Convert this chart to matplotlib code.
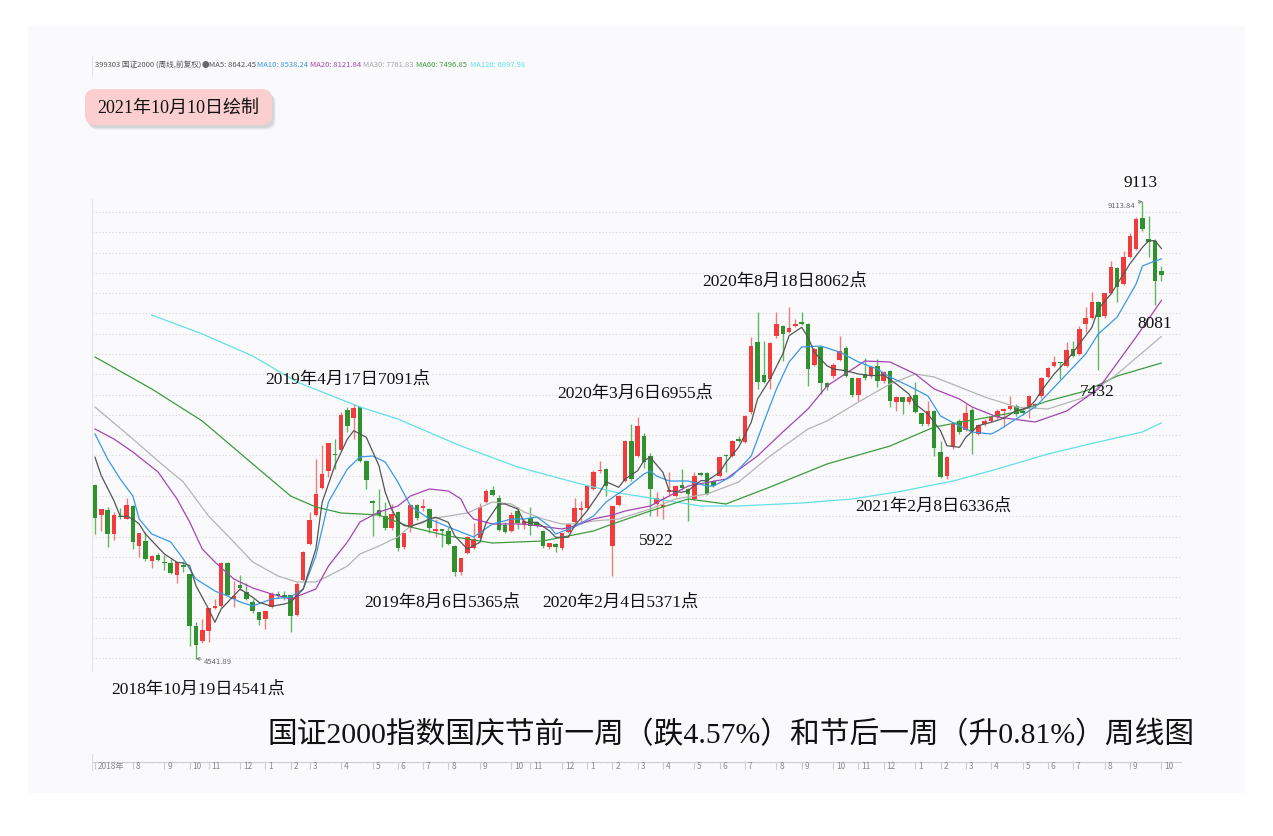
import numpy as np
import matplotlib
matplotlib.use("Agg")
import matplotlib.pyplot as plt
from matplotlib.patches import Rectangle, FancyBboxPatch
from matplotlib.lines import Line2D

# weekly candles, 399303 国证2000, week of 2018-06-22 .. 2021-10-08 (170 weeks)
opens = [6280, 5977, 6030, 5787, 5970, 5937, 6064, 5670, 5720, 5520,
         5577, 5510, 5497, 5377, 5477, 5387, 4870, 4720, 4814, 5047,
         5064, 5494, 5137, 5277, 5210, 5110, 5004, 4937, 5060, 5184,
         5177, 5177, 4977, 5330, 5687, 5980, 6247, 6420, 6587, 6630,
         7027, 6947, 7054, 6520, 6120, 6030, 5970, 5844, 6004, 5654,
         5844, 6077, 6050, 6037, 5820, 5837, 5820, 5670, 5410, 5597,
         5644, 5744, 6110, 6230, 6147, 5877, 5820, 6014, 5877, 5944,
         5904, 5820, 5654, 5687, 5644, 5804, 5904, 6030, 6044, 6237,
         6417, 6437, 5664, 6077, 6320, 6720, 6570, 6770, 6570, 6087,
         6054, 6210, 6170, 6277, 6237, 6137, 6397, 6397, 6320, 6370,
         6577, 6570, 6737, 6704, 7004, 7710, 7377, 7337, 7764, 7870,
         7810, 7870, 7904, 7887, 7477, 7654, 7297, 7370, 7530, 7647,
         7344, 7177, 7387, 7364, 7464, 7320, 7420, 7104, 7154, 7104,
         7177, 6997, 6884, 7020, 6610, 6364, 6654, 6920, 6830, 7030,
         6787, 6887, 6920, 6954, 7020, 7037, 7070, 7014, 7054, 7067,
         7164, 7360, 7470, 7504, 7470, 7637, 7587, 7887, 7947, 8104,
         7970, 8194, 8447, 8287, 8554, 8637, 8947, 8737, 8720, 8420]
highs = [6290, 6037, 6054, 6004, 6047, 6144, 6077, 5800, 5804, 5580,
         5597, 5577, 5537, 5510, 5520, 5390, 4910, 4937, 5050, 5137,
         5504, 5510, 5320, 5377, 5297, 5137, 5010, 5030, 5210, 5220,
         5220, 5180, 5310, 5620, 6010, 6537, 6677, 6700, 6737, 7004,
         7054, 7091, 7064, 6530, 6130, 6237, 6104, 6087, 6020, 5800,
         6090, 6090, 6137, 6050, 5937, 5840, 5854, 5680, 5550, 5770,
         5893, 6097, 6237, 6264, 6177, 5904, 6004, 6054, 5940, 6054,
         5920, 5830, 5700, 5700, 5800, 5900, 6144, 6120, 6270, 6430,
         6520, 6450, 6080, 6180, 6730, 6887, 6955, 6800, 6600, 6210,
         6170, 6404, 6280, 6440, 6250, 6404, 6410, 6410, 6330, 6560,
         6590, 6730, 6770, 6980, 7754, 8010, 7720, 7710, 8004, 7880,
         8062, 7937, 8004, 7900, 7650, 7670, 7310, 7500, 7770, 7670,
         7360, 7350, 7544, 7470, 7537, 7420, 7430, 7170, 7160, 7170,
         7304, 7000, 7120, 7030, 6720, 6570, 6900, 6940, 7087, 7050,
         6890, 6940, 6970, 7040, 7050, 7164, 7090, 7040, 7180, 7100,
         7360, 7460, 7570, 7510, 7704, 7720, 7870, 8054, 8204, 8120,
         8200, 8520, 8460, 8620, 8794, 8960, 9114, 8970, 8740, 8470]
lows = [5787, 5820, 5654, 5730, 5937, 5937, 5637, 5554, 5517, 5444,
        5520, 5430, 5390, 5297, 5410, 4670, 4542, 4700, 4704, 5040,
        5060, 5170, 5054, 5230, 5130, 5000, 4880, 4837, 5050, 5150,
        5130, 4804, 4970, 5320, 5680, 5970, 6240, 6354, 6437, 6620,
        6810, 6737, 6510, 6237, 5770, 5960, 5830, 5830, 5620, 5637,
        5804, 5930, 6020, 5794, 5754, 5654, 5680, 5365, 5380, 5590,
        5640, 5740, 6100, 6170, 5820, 5800, 5810, 5837, 5840, 5777,
        5860, 5650, 5640, 5604, 5630, 5800, 5900, 5887, 6040, 6230,
        6400, 6164, 5371, 6070, 6310, 6320, 6560, 6450, 5970, 5970,
        5937, 6170, 6160, 6230, 5922, 6130, 6370, 6180, 6260, 6360,
        6404, 6560, 6710, 6700, 6990, 7237, 7300, 7237, 7750, 7520,
        7800, 7860, 7880, 7270, 7470, 7187, 7230, 7350, 7520, 7360,
        7160, 7120, 7330, 7350, 7254, 7300, 7054, 7020, 6987, 7090,
        7000, 6870, 6870, 6570, 6350, 6336, 6640, 6790, 6820, 6587,
        6780, 6870, 6910, 6940, 6857, 7030, 6970, 6980, 6947, 7050,
        7150, 7350, 7460, 7337, 7460, 7560, 7580, 7804, 7940, 7432,
        7947, 8190, 8104, 8280, 8550, 8630, 8820, 8560, 8081, 8314]
closes = [5944, 6037, 5787, 5977, 5957, 6080, 5704, 5794, 5537, 5570,
          5530, 5500, 5397, 5504, 5460, 4864, 4680, 4830, 5047, 5070,
          5494, 5177, 5170, 5244, 5137, 5014, 4930, 5020, 5187, 5164,
          5150, 4964, 5287, 5610, 5927, 6187, 6387, 6697, 6574, 6977,
          6870, 7047, 6520, 6330, 6097, 5977, 5844, 5987, 5644, 5797,
          6077, 5944, 6064, 5844, 5837, 5820, 5687, 5404, 5547, 5760,
          5737, 6060, 6217, 6177, 5830, 5810, 5977, 5894, 5920, 5870,
          5870, 5664, 5694, 5654, 5794, 5887, 6047, 6044, 6264, 6410,
          6430, 6264, 6070, 6164, 6720, 6337, 6870, 6504, 6237, 6147,
          6080, 6227, 6264, 6244, 6187, 6370, 6380, 6187, 6270, 6554,
          6564, 6720, 6720, 6970, 7670, 7310, 7310, 7697, 7887, 7787,
          7844, 7887, 7890, 7437, 7637, 7297, 7254, 7477, 7614, 7370,
          7177, 7344, 7344, 7454, 7320, 7404, 7114, 7154, 7104, 7154,
          7010, 6884, 7020, 6644, 6360, 6560, 6887, 6804, 6997, 6820,
          6877, 6920, 6954, 7020, 7034, 7064, 6987, 6994, 7170, 7087,
          7347, 7447, 7504, 7494, 7630, 7570, 7837, 7944, 8104, 7960,
          8194, 8460, 8254, 8560, 8770, 8937, 8837, 8712, 8314, 8381]

# moving averages (week index, value)
ma5_idx = [0, 1, 3, 4, 5, 6, 7, 8, 9, 11, 13, 14, 15, 16, 18, 19, 20, 22, 23, 25,
           26, 28, 30, 31, 33, 35, 36, 38, 40, 41, 43, 45, 46, 47, 48, 49, 50, 52, 53, 54,
           56, 57, 59, 61, 62, 64, 65, 67, 68, 70, 72, 73, 75, 76, 78, 80, 81, 83, 84, 86,
           87, 88, 90, 91, 93, 94, 96, 97, 99, 100, 102, 104, 105, 107, 109, 110, 112, 113, 114, 116,
           117, 119, 121, 123, 125, 127, 129, 130, 132, 134, 135, 137, 138, 140, 142, 144, 146, 148, 149, 150,
           152, 154, 156, 158, 159, 161, 162, 164, 166, 167, 168, 169]
ma5_val = [6554, 6370, 6120, 5964, 5964, 5937, 5887, 5787, 5720, 5587, 5504, 5497, 5470, 5270, 5037, 4904, 5037, 5170, 5237, 5154,
           5104, 5064, 5087, 5104, 5237, 5637, 6104, 6470, 6737, 6820, 6754, 6470, 6204, 6037, 5920, 5870, 5864, 5904, 5937, 5954,
           5904, 5770, 5637, 5704, 5904, 6087, 6087, 6037, 5904, 5904, 5820, 5754, 5754, 5870, 6020, 6204, 6310, 6254, 6337, 6420,
           6520, 6554, 6404, 6220, 6204, 6220, 6320, 6320, 6404, 6504, 6654, 6904, 7137, 7337, 7587, 7770, 7854, 7754, 7604, 7470,
           7437, 7420, 7387, 7370, 7377, 7287, 7187, 7087, 6987, 6820, 6670, 6654, 6754, 6870, 6904, 6944, 7020, 7054, 7120, 7220,
           7387, 7520, 7687, 7854, 8037, 8187, 8287, 8487, 8654, 8720, 8720, 8642]
ma10_idx = [0, 2, 4, 6, 7, 9, 12, 14, 16, 19, 21, 23, 25, 28, 31, 33, 35, 37, 40, 42,
            44, 46, 48, 50, 53, 56, 58, 60, 63, 66, 68, 70, 72, 73, 76, 79, 81, 84, 87, 88,
            89, 91, 94, 97, 98, 101, 104, 106, 108, 110, 112, 115, 116, 118, 121, 124, 126, 129, 132, 134,
            137, 139, 142, 143, 146, 149, 151, 154, 157, 159, 162, 165, 166, 168, 169]
ma10_val = [6787, 6537, 6337, 6167, 5937, 5787, 5707, 5537, 5337, 5217, 5167, 5107, 5067, 5137, 5157, 5237, 5567, 6107, 6437, 6557,
            6567, 6507, 6307, 6067, 5937, 5857, 5807, 5757, 5887, 5937, 5937, 5957, 5867, 5787, 5857, 5967, 6107, 6237, 6387, 6417,
            6367, 6317, 6317, 6267, 6267, 6367, 6567, 6907, 7237, 7507, 7657, 7667, 7647, 7607, 7507, 7437, 7357, 7267, 7167, 6967,
            6867, 6807, 6787, 6817, 6937, 7057, 7187, 7387, 7587, 7787, 7957, 8287, 8467, 8517, 8538]
ma20_idx = [0, 3, 6, 10, 13, 15, 17, 19, 22, 25, 28, 31, 35, 37, 40, 42, 45, 48, 50, 53,
            56, 58, 59, 60, 63, 68, 74, 76, 79, 82, 84, 88, 94, 100, 105, 109, 113, 116, 122, 126,
            130, 133, 137, 139, 143, 149, 154, 159, 165, 169]
ma20_val = [6837, 6737, 6607, 6407, 6137, 5907, 5637, 5507, 5337, 5247, 5187, 5137, 5237, 5467, 5707, 5907, 6007, 6067, 6167, 6237,
            6217, 6137, 6007, 5937, 5887, 5887, 5837, 5867, 5937, 5977, 6017, 6067, 6267, 6337, 6567, 6807, 7037, 7267, 7517, 7507,
            7387, 7237, 7137, 7057, 6957, 6907, 7017, 7237, 7757, 8122]
ma30_idx = [0, 6, 10, 14, 18, 22, 25, 29, 32, 35, 37, 40, 42, 45, 48, 50, 53, 56, 59, 63,
            66, 68, 71, 74, 76, 79, 83, 88, 92, 97, 102, 107, 113, 116, 121, 126, 130, 133, 137, 141,
            146, 151, 157, 162, 169]
ma30_val = [7057, 6737, 6517, 6307, 5967, 5707, 5507, 5367, 5307, 5307, 5367, 5467, 5587, 5667, 5757, 5867, 5937, 5967, 5997, 6107,
            6087, 6007, 5937, 5887, 5887, 5917, 5937, 6037, 6137, 6187, 6307, 6567, 6837, 6917, 7107, 7287, 7387, 7357, 7257, 7157,
            7057, 7037, 7157, 7387, 7762]
ma60_idx = [0, 9, 17, 25, 31, 35, 39, 45, 50, 56, 63, 71, 79, 82, 88, 94, 100, 107, 116, 126,
            133, 140, 146, 151, 157, 162, 169]
ma60_val = [7557, 7237, 6917, 6487, 6167, 6057, 5997, 5977, 5857, 5767, 5697, 5717, 5817, 5887, 6017, 6137, 6087, 6257, 6487, 6667,
            6857, 6937, 7007, 7117, 7217, 7367, 7497]
ma120_idx = [9, 17, 25, 32, 42, 48, 58, 67, 77, 83, 88, 96, 102, 112, 120, 128, 136, 143, 151, 159,
             166, 169]
ma120_val = [7977, 7787, 7567, 7307, 7057, 6937, 6667, 6457, 6287, 6197, 6147, 6067, 6067, 6097, 6137, 6217, 6317, 6437, 6587, 6707,
             6807, 6898]

month_idx = [0, 6, 11, 15, 18, 23, 27, 31, 34, 39, 44, 48, 52, 56, 61, 66, 69, 74, 78, 82,
             86, 90, 95, 99, 103, 108, 112, 117, 121, 125, 130, 134, 138, 142, 147, 151, 155, 160, 164, 169]
month_lbl = ["2018年", "8", "9", "10", "11", "12", "1", "2", "3", "4", "5", "6", "7", "8", "9", "10", "11", "12", "1", "2",
             "3", "4", "5", "6", "7", "8", "9", "10", "11", "12", "1", "2", "3", "4", "5", "6", "7", "8", "9", "10"]

W, H = 1273, 837
SANS = ["Noto Sans CJK SC", "DejaVu Sans"]
SERIF = ["Liberation Serif", "Noto Sans CJK SC", "DejaVu Sans"]
plt.rcParams["font.family"] = SANS


def fx(px):
    return px / W


def fy(py):
    return 1 - py / H


fig = plt.figure(figsize=(W / 100, H / 100), dpi=100)
fig.patch.set_facecolor("white")
fig.add_artist(Rectangle((fx(28), fy(794)), (1245 - 28) / W, (794 - 27) / H,
                         transform=fig.transFigure, facecolor="#fafafc", edgecolor="none", zorder=0))

XLIM = (-0.475, 172.27)

# price panel
ax = fig.add_axes([fx(92), fy(672), 1090 / W, 472 / H])
ax.set_facecolor("none")
ax.set_xlim(*XLIM)
ax.set_ylim(4417, 9137)
ax.set_yticks(np.linspace(4544, 9007, 23))
ax.set_xticks([])
ax.tick_params(left=False, labelleft=False)
ax.grid(axis="y", linestyle=(0, (1, 2)), color="#d6d6d6", linewidth=0.8)
for s in ["top", "right", "bottom"]:
    ax.spines[s].set_visible(False)
ax.spines["left"].set_color("#e6e6e6")

o = np.array(opens)
h = np.array(highs)
l = np.array(lows)
c = np.array(closes)
x = np.arange(len(c))
up = c >= o
body_col = np.where(up, "#f23c3c", "#2f922f")
wick_col = np.where(up, "#f27c7c", "#62b562")
ax.vlines(x, l, h, colors=wick_col, linewidth=1.0, zorder=2)
ax.bar(x, np.maximum(np.abs(c - o), 10), bottom=np.minimum(o, c), width=0.72,
       color=body_col, linewidth=0, zorder=3)

ax.plot(ma120_idx, ma120_val, color="#62e0e8", lw=0.9, zorder=4)
ax.plot(ma60_idx, ma60_val, color="#3d9a3d", lw=0.9, zorder=4)
ax.plot(ma30_idx, ma30_val, color="#b4b4b4", lw=0.9, zorder=4)
ax.plot(ma20_idx, ma20_val, color="#a444b4", lw=0.9, zorder=4)
ax.plot(ma10_idx, ma10_val, color="#3a98e6", lw=0.9, zorder=4)
ax.plot(ma5_idx, ma5_val, color="#555555", lw=0.9, zorder=5)

hi_i = int(np.argmax(h))
lo_i = int(np.argmin(l))
ax.annotate(f"{h[hi_i]-0.16:.2f}", xy=(hi_i, h[hi_i]), xytext=(-5, -3), textcoords="offset points",
            ha="right", va="center", fontsize=5.5, color="#666666",
            arrowprops=dict(arrowstyle="->", color="#777777", lw=0.6, shrinkA=0, shrinkB=0))
ax.annotate(f"{l[lo_i]-0.11:.2f}", xy=(lo_i, l[lo_i]), xytext=(6, -2), textcoords="offset points",
            ha="left", va="center", fontsize=5.5, color="#666666",
            arrowprops=dict(arrowstyle="->", color="#777777", lw=0.6, shrinkA=0, shrinkB=0))

# x axis strip
axx = fig.add_axes([fx(92), fy(772), 1090 / W, 17 / H])
axx.set_xlim(*XLIM)
axx.set_ylim(0, 17)
axx.axis("off")
axx.axhline(9.3, color="#cfcfcf", lw=0.8)
axx.axvline(XLIM[0], color="#dcdcdc", lw=0.8)
axx.vlines(x, 8.2, 9.3, color="#d6d6d6", lw=0.6)
axx.vlines(month_idx, 2.3, 9.3, color="#cccccc", lw=0.8)
for mi, ml in zip(month_idx, month_lbl):
    axx.text(mi + 0.45, 5.2, ml, fontsize=6, color="#8a8a8a", ha="left", va="center")

# header line
fig.add_artist(Line2D([fx(92), fx(92)], [fy(57), fy(77)], transform=fig.transFigure, color="#e4e4e4", lw=0.8))
header = [("399303 国证2000 (周线,前复权)", 95, "#555555"), ("●", 202, "#666666"),
          ("MA5: 8642.45", 209, "#555555"), ("MA10: 8538.24", 257, "#3a98e6"),
          ("MA20: 8121.84", 310, "#a444b4"), ("MA30: 7761.83", 363, "#a8a8a8"),
          ("MA60: 7496.85", 416, "#3d9a3d"), ("MA120: 6897.98", 470, "#62e0e8")]
for txt, px, col in header:
    fig.text(fx(px), fy(65), txt, fontsize=5.5, color=col, ha="left", va="center")

# date stamp box, drawn in a small pixel-unit axes so the corners stay round
axs = fig.add_axes([fx(75), fy(140), 210 / W, 60 / H])
axs.set_xlim(75, 285)
axs.set_ylim(140, 80)
axs.axis("off")
for k, (dx, dy, a) in enumerate([(4, 5, 0.10), (3, 4, 0.14), (2, 3, 0.18)]):
    axs.add_patch(FancyBboxPatch((85 + dx, 90 + dy), 187, 36, boxstyle="round,pad=0,rounding_size=10",
                                 fc="#9a9a9a", ec="none", alpha=a, zorder=1))
axs.add_patch(FancyBboxPatch((85, 90), 187, 36, boxstyle="round,pad=0,rounding_size=10",
                             fc="#fbcfd0", ec="none", zorder=2))
axs.text(178, 108, "2021年10月10日绘制", fontsize=13, family=SERIF, color="#111111",
         ha="center", va="center", zorder=3)

notes = [("2019年4月17日7091点", 348, 380), ("2020年3月6日6955点", 635, 394),
         ("2020年8月18日8062点", 785, 282), ("9113", 1141, 183), ("8081", 1155, 324),
         ("7432", 1097, 392), ("2021年2月8日6336点", 933, 507), ("5922", 656, 541),
         ("2019年8月6日5365点", 442, 603), ("2020年2月4日5371点", 620, 603),
         ("2018年10月19日4541点", 198, 690)]
for txt, px, py in notes:
    fig.text(fx(px), fy(py), txt, fontsize=12.5, family=SERIF, color="#111111", ha="center", va="center")

fig.text(fx(731), fy(735), "国证2000指数国庆节前一周（跌4.57%）和节后一周（升0.81%）周线图",
         fontsize=21.4, family=SERIF, color="#111111", ha="center", va="center")

fig.savefig("out.png", dpi=100, facecolor="white")
